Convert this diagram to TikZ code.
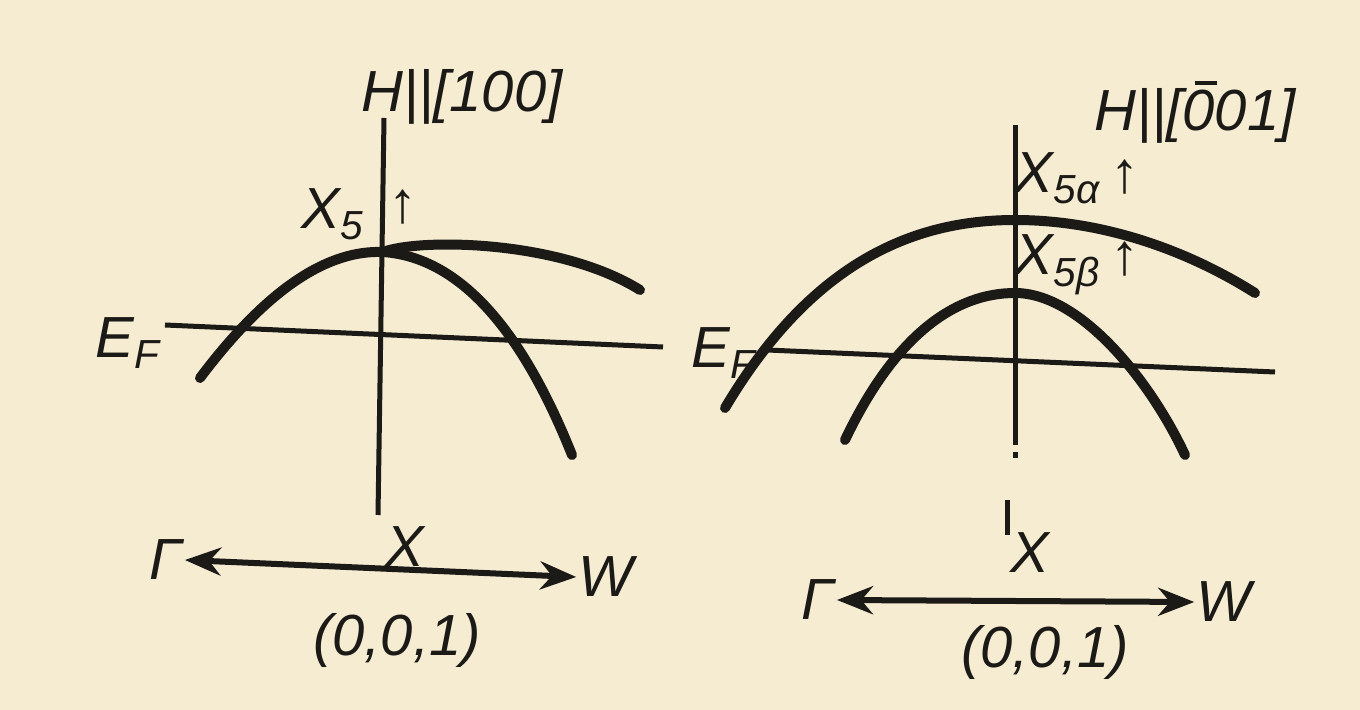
\documentclass[tikz,border=0pt]{standalone}
\usepackage{fontspec}
\setmainfont{Liberation Sans}
\usetikzlibrary{arrows.meta}
\definecolor{paper}{HTML}{F5ECD2}
\definecolor{ink}{HTML}{1C1A17}
\newcommand{\barzero}{\rlap{\kern0.22em\raisebox{0.78em}{\rule{0.38em}{2pt}}}0}
\tikzset{
  band/.style={line width=5pt, draw=ink, line cap=round},
  level/.style={line width=2.5pt, draw=ink},
  field/.style={line width=2.5pt, draw=ink},
  kline/.style={line width=3pt, draw=ink, {Stealth[length=18pt,width=14pt]}-{Stealth[length=18pt,width=14pt]}},
  lbl/.style={inner sep=1pt, text=ink, font=\fontsize{29}{34}\selectfont\itshape},
}
\begin{document}
\begin{tikzpicture}[x=0.5pt,y=-0.5pt]
    \fill[paper] (0,0) rectangle (1360,710);
    % left panel, H || [100]
    \coordinate (aT) at (384,118); \coordinate (aB) at (378,515);
    \coordinate (fL) at (165,325); \coordinate (fR) at (663,347);
    \coordinate (pL) at (383,252);
    \draw[field] (aT) -- (aB);
    \draw[level] (fL) -- (fR);
    \draw[band] (200,378) .. controls (270,285) and (330,250) .. (pL)
      .. controls (420,238) and (560,240) .. (640,290);
    \draw[band] (pL) .. controls (470,258) and (530,350) .. (572,455);
    \node[lbl] (tL) at (462,97) {H||[100]};
    \node[lbl] (x5) at (333,214) {X\textsubscript{5}};
    \node[lbl] (upL) at (403,207) {\bfseries ↑};
    \node[lbl] (efL) at (128,343) {E\textsubscript{F}};
    \node[lbl] (gL) at (166,560) {Γ};
    \node[lbl] (wL) at (606,577) {W};
    \node[lbl] (xL) at (405,547) {X};
    \node[lbl] (kL) at (397,640) {(0,0,1)};
    \draw[kline] (gL.east) -- (wL.west);
    % right panel, H || [-001]
    \coordinate (bT) at (1015,125); \coordinate (bB) at (1015,445);
    \coordinate (gR) at (767,350); \coordinate (hR) at (1275,372);
    \coordinate (pA) at (1015,220); \coordinate (pB) at (1015,293);
    \draw[field] (bT) -- (bB);
    \draw[field] (1015,452) -- (1015,458);
    \draw[field] (1007,500) -- (1007,535);
    \draw[level] (gR) -- (hR);
    \draw[band] (725,408) .. controls (810,265) and (910,220) .. (pA)
      .. controls (1110,220) and (1195,255) .. (1255,293);
    \draw[band] (845,440) .. controls (895,335) and (955,293) .. (pB)
      .. controls (1080,293) and (1150,380) .. (1185,455);
    \node[lbl] (tR) at (1195,112) {H||[\barzero 01]};
    \node[lbl] (xa) at (1077,178) {X\textsubscript{5α}\,\bfseries ↑};
    \node[lbl] (xb) at (1077,265) {X\textsubscript{5β}\,\bfseries ↑};
    \node[lbl] (efR) at (724,353) {E\textsubscript{F}};
    \node[lbl] (gR2) at (818,600) {Γ};
    \node[lbl] (wR) at (1224,602) {W};
    \node[lbl] (xR) at (1030,553) {X};
    \node[lbl] (kR) at (1045,652) {(0,0,1)};
    \draw[kline] (gR2.east) -- (wR.west);
\end{tikzpicture}
\end{document}
